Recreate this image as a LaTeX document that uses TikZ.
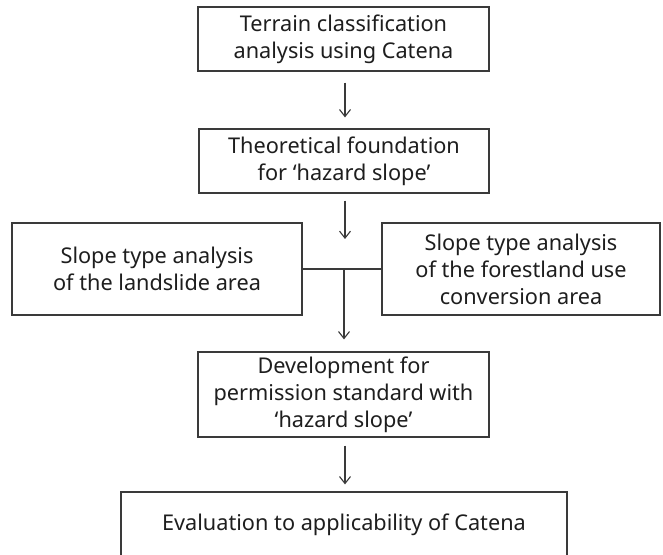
\documentclass[tikz,border=0pt]{standalone}
\usepackage{fontspec}
\setmainfont{Noto Sans}
\usetikzlibrary{arrows.meta}
\definecolor{linec}{HTML}{3A3A3A}
\definecolor{textc}{HTML}{1E1E1E}
\tikzset{
  x=1pt, y=1pt,
  box/.style={draw=linec, line width=1.2pt, align=center, text=textc, inner sep=0pt,
    font=\fontsize{21.7}{27}\selectfont},
  conn/.style={draw=linec, line width=1.1pt},
  arr/.style={conn, -{Straight Barb[length=7pt,width=11pt,line width=1.1pt]}}
}
\begin{document}
\begin{tikzpicture}
\clip (0,0) rectangle (663,554);
\fill[white] (0,0) rectangle (663,554);
\node[box, minimum width=291pt, minimum height=64pt] (b1) at (343.5,515) {Terrain classification\\analysis using Catena};
\node[box, minimum width=290pt, minimum height=64pt] (b2) at (344,393) {Theoretical foundation\\for ‘hazard slope’};
\node[box, minimum width=290pt, minimum height=92pt] (bl) at (157,285) {Slope type analysis\\of the landslide area};
\node[box, minimum width=278pt, minimum height=92pt] (br) at (521,285) {Slope type analysis\\of the forestland use\\conversion area};
\node[box, minimum width=291pt, minimum height=85pt] (b4) at (343.5,159.5) {Development for\\permission standard with\\‘hazard slope’};
\node[box, minimum width=446pt, minimum height=66pt] (b5) at (344,29) {Evaluation to applicability of Catena};
\coordinate (j) at (344,285);
\coordinate (t2) at (345,315);
\draw[arr, shorten <=11pt, shorten >=11pt] (b1.south -| 345,0) -- (b2.north -| 345,0);
\draw[arr, shorten <=7pt] (b2.south -| t2) -- (t2);
\draw[conn] (bl.east) -- (br.west);
\draw[arr, shorten >=12pt] (j) -- (b4.north -| j);
\draw[arr, shorten <=8pt, shorten >=7pt] (b4.south -| 345,0) -- (b5.north -| 345,0);
\end{tikzpicture}
\end{document}
